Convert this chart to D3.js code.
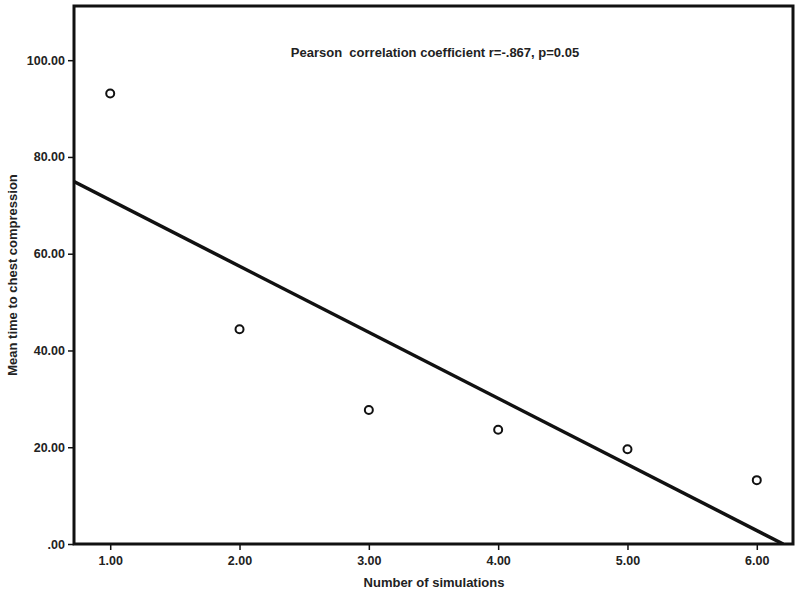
<!DOCTYPE html>
<html><head><meta charset="utf-8">
<script src="https://cdn.jsdelivr.net/npm/d3@7"></script>
<style>body{margin:0;background:#fff}text{font-family:"Liberation Sans",Arial,sans-serif;font-weight:bold;fill:#222}</style>
</head><body><svg id="c" width="800" height="594"></svg>
<script>
const simulations = [1, 2, 3, 4, 5, 6];
const meanTime = [93.1, 44.4, 27.7, 23.6, 19.6, 13.2];
const xTicks = [1, 2, 3, 4, 5, 6];
const yTicks = [0, 20, 40, 60, 80, 100];
const annotation = "Pearson  correlation coefficient r=-.867, p=0.05";

const svg = d3.select("#c");
const L = 74, R = 793, T = 6, B = 544;
const x = d3.scaleLinear().domain([0.72, 6.28]).range([L, R]);
const y = d3.scaleLinear().domain([0, 111.2]).range([B, T]);

// axes
const fmt = v => v === 0 ? ".00" : d3.format(".2f")(v);
const yAx = svg.append("g").attr("transform", `translate(${L},0)`)
  .call(d3.axisLeft(y).tickValues(yTicks).tickFormat(fmt).tickSize(6).tickPadding(3));
const xAx = svg.append("g").attr("transform", `translate(0,${B})`)
  .call(d3.axisBottom(x).tickValues(xTicks).tickFormat(d3.format(".2f")).tickSize(6).tickPadding(6));
[yAx, xAx].forEach(g => {
  g.select(".domain").remove();
  g.selectAll("line").attr("stroke", "#111").attr("stroke-width", 1.5);
  g.selectAll("text").attr("font-size", 12.5).attr("fill", "#222")
    .style("font-family", '"Liberation Sans",Arial,sans-serif').style("font-weight", "bold");
});

// regression line (least squares)
const mx = d3.mean(simulations), my = d3.mean(meanTime);
const slope = d3.sum(simulations, (v, i) => (v - mx) * (meanTime[i] - my)) / d3.sum(simulations, v => (v - mx) ** 2);
const icpt = my - slope * mx;
const x0 = x.domain()[0];
const xEnd = Math.min(x.domain()[1], -icpt / slope);
svg.append("clipPath").attr("id", "clip").append("rect").attr("x", L).attr("y", T).attr("width", R - L).attr("height", B - T);
svg.append("line").attr("clip-path", "url(#clip)")
  .attr("x1", x(x0)).attr("y1", y(icpt + slope * x0))
  .attr("x2", x(xEnd)).attr("y2", y(icpt + slope * xEnd))
  .attr("stroke", "#111").attr("stroke-width", 3.5);

// points
svg.append("g").selectAll("circle").data(simulations).join("circle")
  .attr("cx", d => x(d)).attr("cy", (d, i) => y(meanTime[i])).attr("r", 4)
  .attr("fill", "#fff").attr("stroke", "#111").attr("stroke-width", 2);

// frame
svg.append("rect").attr("x", L).attr("y", T).attr("width", R - L).attr("height", B - T)
  .attr("fill", "none").attr("stroke", "#111").attr("stroke-width", 3);

// annotation
svg.append("text").attr("x", 435).attr("y", 57).attr("text-anchor", "middle").attr("font-size", 13)
  .style("white-space", "pre").text(annotation);

// axis titles
svg.append("text").attr("x", 434).attr("y", 587).attr("text-anchor", "middle").attr("font-size", 13)
  .text("Number of simulations");
svg.append("text").attr("transform", "translate(17,275) rotate(-90)").attr("text-anchor", "middle").attr("font-size", 13)
  .text("Mean time to chest compression");
</script></body></html>
